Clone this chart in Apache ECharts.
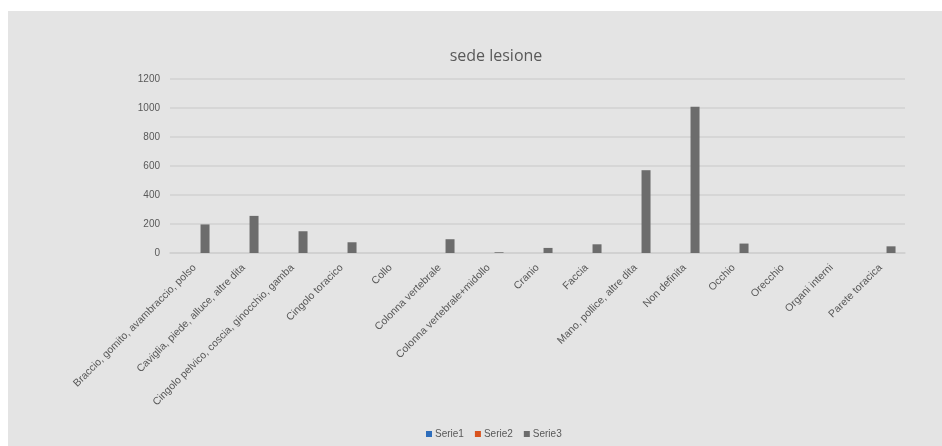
<!DOCTYPE html>
<html>
<head>
<meta charset="utf-8">
<script src="https://cdn.jsdelivr.net/npm/echarts@6/dist/echarts.min.js"></script>
<style>
  html, body { margin: 0; padding: 0; background: #ffffff; }
  #chart { position: absolute; left: 8px; top: 11px; width: 934px; height: 435px; background: #e4e4e4; }
</style>
</head>
<body>
<div id="chart"></div>
<script>
// Body-site categories of injuries
var categories = [
  'Braccio, gomito, avambraccio, polso',
  'Caviglia, piede, alluce, altre dita',
  'Cingolo pelvico, coscia, ginocchio, gamba',
  'Cingolo toracico',
  'Collo',
  'Colonna vertebrale',
  'Colonna vertebrale+midollo',
  'Cranio',
  'Faccia',
  'Mano, pollice, altre dita',
  'Non definita',
  'Occhio',
  'Orecchio',
  'Organi interni',
  'Parete toracica'
];
var serie1 = [null, null, null, null, null, null, null, null, null, null, null, null, null, null, null];
var serie2 = [null, null, null, null, null, null, null, null, null, null, null, null, null, null, null];
var serie3 = [197, 256, 150, 74, 0, 95, 5, 35, 60, 571, 1009, 65, 0, 0, 46];
var yTicks = { min: 0, max: 1200, step: 200 };

var textColor = '#595959';
var chart = echarts.init(document.getElementById('chart'));
chart.setOption({
  backgroundColor: '#e4e4e4',
  animation: false,
  title: {
    text: 'sede lesione',
    left: 483,
    textAlign: 'center',
    top: 32,
    textStyle: { fontFamily: 'Open Sans', fontSize: 16, fontWeight: 'normal', color: textColor }
  },
  legend: {
    data: ['Serie1', 'Serie2', 'Serie3'],
    left: 413,
    top: 413,
    icon: 'rect',
    itemWidth: 6,
    itemHeight: 6,
    itemGap: 11,
    textStyle: { fontFamily: 'Liberation Sans', fontSize: 10, color: textColor, padding: [0, 0, 0, -2] }
  },
  grid: { left: 162, right: 37, top: 68, bottom: 193, containLabel: false },
  xAxis: {
    type: 'category',
    data: categories,
    axisTick: { show: false },
    axisLine: { lineStyle: { color: '#d0d0d0', width: 1.5 } },
    axisLabel: {
      interval: 0,
      rotate: 45,
      margin: 13,
      fontFamily: 'Liberation Sans',
      fontSize: 10.5,
      color: textColor
    }
  },
  yAxis: {
    type: 'value',
    min: yTicks.min,
    max: yTicks.max,
    interval: yTicks.step,
    axisLine: { show: false },
    axisTick: { show: false },
    axisLabel: {
      fontFamily: 'Liberation Sans',
      fontSize: 10,
      color: textColor,
      margin: 10,
      formatter: function (v) { return String(v); }
    },
    splitLine: { lineStyle: { color: '#d2d2d2', width: 1.5 } }
  },
  series: [
    { name: 'Serie1', type: 'bar', data: serie1, barWidth: 9, barGap: '17%', itemStyle: { color: '#2e6dbb' } },
    { name: 'Serie2', type: 'bar', data: serie2, barWidth: 9, barGap: '17%', itemStyle: { color: '#d9531e' } },
    { name: 'Serie3', type: 'bar', data: serie3, barWidth: 9, barGap: '17%', itemStyle: { color: '#6c6c6c' } }
  ]
});
</script>
</body>
</html>
